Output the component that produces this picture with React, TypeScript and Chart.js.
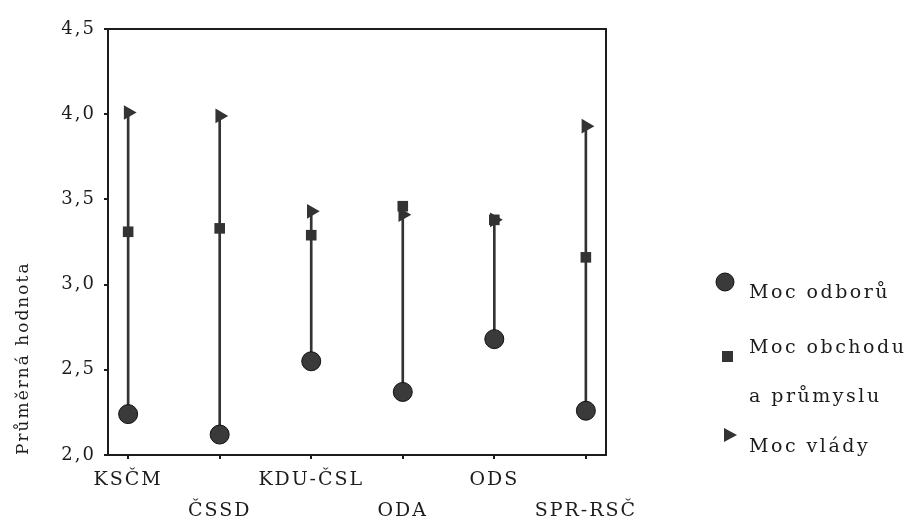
import React, { useEffect, useRef } from "react";
import { Chart, registerables } from "chart.js";

Chart.register(...registerables);

const categories = ["KSČM", "ČSSD", "KDU-ČSL", "ODA", "ODS", "SPR-RSČ"];
const mocOdboru = [2.24, 2.12, 2.55, 2.37, 2.68, 2.26];
const mocObchodu = [3.31, 3.33, 3.29, 3.46, 3.38, 3.16];
const mocVlady = [4.01, 3.99, 3.43, 3.41, 3.38, 3.93];
const yTicks = [2.0, 2.5, 3.0, 3.5, 4.0, 4.5];
const legendLabels = [["Moc odborů"], ["Moc obchodu", "a průmyslu"], ["Moc vlády"]];

const INK = "#1c1c1c";
const FONT = "'DejaVu Serif', serif";

const framePlugin = {
  id: "frame",
  beforeDraw(chart: any) {
    const ctx = chart.ctx;
    ctx.fillStyle = "#ffffff";
    ctx.fillRect(0, 0, chart.width, chart.height);
    (ctx as any).letterSpacing = "2px";
  },
  afterDatasetsDraw(chart: any) {
    const { ctx, chartArea } = chart;
    ctx.save();
    ctx.strokeStyle = INK;
    ctx.lineWidth = 2;
    ctx.strokeRect(chartArea.left, chartArea.top, chartArea.right - chartArea.left, chartArea.bottom - chartArea.top);
    ctx.restore();
  },
  afterDraw(chart: any) {
    const { ctx, chartArea } = chart;
    const x0 = chartArea.right;
    ctx.save();
    (ctx as any).letterSpacing = "2.5px";
    ctx.strokeStyle = "#111";
    // circle
    ctx.beginPath();
    ctx.arc(x0 + 119, 282, 9, 0, Math.PI * 2);
    ctx.fillStyle = "#3a3a3a";
    ctx.fill();
    ctx.lineWidth = 1;
    ctx.stroke();
    // square
    ctx.fillStyle = "#333";
    ctx.fillRect(x0 + 116, 351, 11, 11);
    // triangle pointing right
    ctx.beginPath();
    ctx.moveTo(x0 + 118, 428);
    ctx.lineTo(x0 + 131, 435);
    ctx.lineTo(x0 + 118, 442);
    ctx.closePath();
    ctx.fill();
    // text
    ctx.fillStyle = INK;
    ctx.font = `19px ${FONT}`;
    ctx.textBaseline = "middle";
    ctx.textAlign = "left";
    const tx = x0 + 143;
    ctx.fillText(legendLabels[0][0], tx, 293);
    ctx.fillText(legendLabels[1][0], tx, 348);
    ctx.fillText(legendLabels[1][1], tx, 397);
    ctx.fillText(legendLabels[2][0], tx, 447);
    ctx.restore();
  },
};

export default function App() {
  const ref = useRef<HTMLCanvasElement>(null);
  useEffect(() => {
    document.body.style.margin = "0";
    const ranges = categories.map((_, i) => {
      const vals = [mocOdboru[i], mocObchodu[i], mocVlady[i]];
      return { x: i, y: [Math.min(...vals), Math.max(...vals)] };
    });
    const chart = new Chart(ref.current as HTMLCanvasElement, {
      type: "scatter",
      data: {
        datasets: [
          {
            type: "bar",
            label: "range",
            data: ranges as any,
            backgroundColor: "#333",
            borderWidth: 0,
            barThickness: 2,
            order: 4,
          } as any,
          {
            label: "Moc odborů",
            data: mocOdboru.map((v, i) => ({ x: i, y: v })),
            pointStyle: "circle",
            pointRadius: 9.5,
            backgroundColor: "#3a3a3a",
            borderColor: "#111",
            borderWidth: 1,
            order: 3,
          },
          {
            label: "Moc obchodu a průmyslu",
            data: mocObchodu.map((v, i) => ({ x: i, y: v })),
            pointStyle: "rect",
            pointRadius: 7.5,
            backgroundColor: "#333",
            borderColor: "#222",
            borderWidth: 0,
            order: 2,
          },
          {
            label: "Moc vlády",
            data: mocVlady.map((v, i) => ({ x: i, y: v })),
            pointStyle: "triangle",
            rotation: 90,
            pointRadius: 8.5,
            backgroundColor: "#333",
            borderColor: "#222",
            borderWidth: 0,
            order: 1,
          },
        ],
      },
      options: {
        animation: false,
        responsive: false,
        maintainAspectRatio: false,
        layout: { padding: { left: 0, top: 29, right: 303, bottom: 0 } },
        plugins: { legend: { display: false }, tooltip: { enabled: false } },
        scales: {
          x: {
            type: "linear",
            min: -0.22,
            max: 5.22,
            offset: false,
            afterBuildTicks: (scale: any) => {
              scale.ticks = categories.map((_, i) => ({ value: i }));
            },
            afterFit: (scale: any) => {
              scale.height = 68;
            },
            border: { display: true, color: INK, width: 2 },
            grid: { offset: false, drawOnChartArea: false, drawTicks: true, tickLength: 4, color: INK, lineWidth: 2 },
            ticks: {
              autoSkip: false,
              maxRotation: 0,
              padding: 6,
              color: INK,
              font: { family: FONT, size: 19, lineHeight: 1.63 },
              callback: (v: any) => {
                const i = Math.round(Number(v));
                const lbl = categories[i] ?? "";
                return i % 2 === 1 ? ["", lbl] : lbl;
              },
            },
          },
          y: {
            type: "linear",
            min: 2.0,
            max: 4.5,
            afterBuildTicks: (scale: any) => {
              scale.ticks = yTicks.map((v) => ({ value: v }));
            },
            afterFit: (scale: any) => {
              scale.width = 108;
            },
            border: { display: true, color: INK, width: 2 },
            grid: { drawOnChartArea: false, drawTicks: true, tickLength: 4, color: INK, lineWidth: 2 },
            ticks: {
              padding: 8,
              color: INK,
              font: { family: FONT, size: 18 },
              callback: (v: any) => Number(v).toFixed(1).replace(".", ","),
            },
            title: {
              display: true,
              text: "Průměrná hodnota",
              align: "start",
              color: INK,
              font: { family: FONT, size: 17 },
              padding: { top: 13, bottom: 0 },
            },
          },
        },
      } as any,
      plugins: [framePlugin],
    });
    return () => chart.destroy();
  }, []);
  return (
    <div style={{ width: 909, height: 523 }}>
      <canvas ref={ref} width={909} height={523} style={{ display: "block" }} />
    </div>
  );
}
